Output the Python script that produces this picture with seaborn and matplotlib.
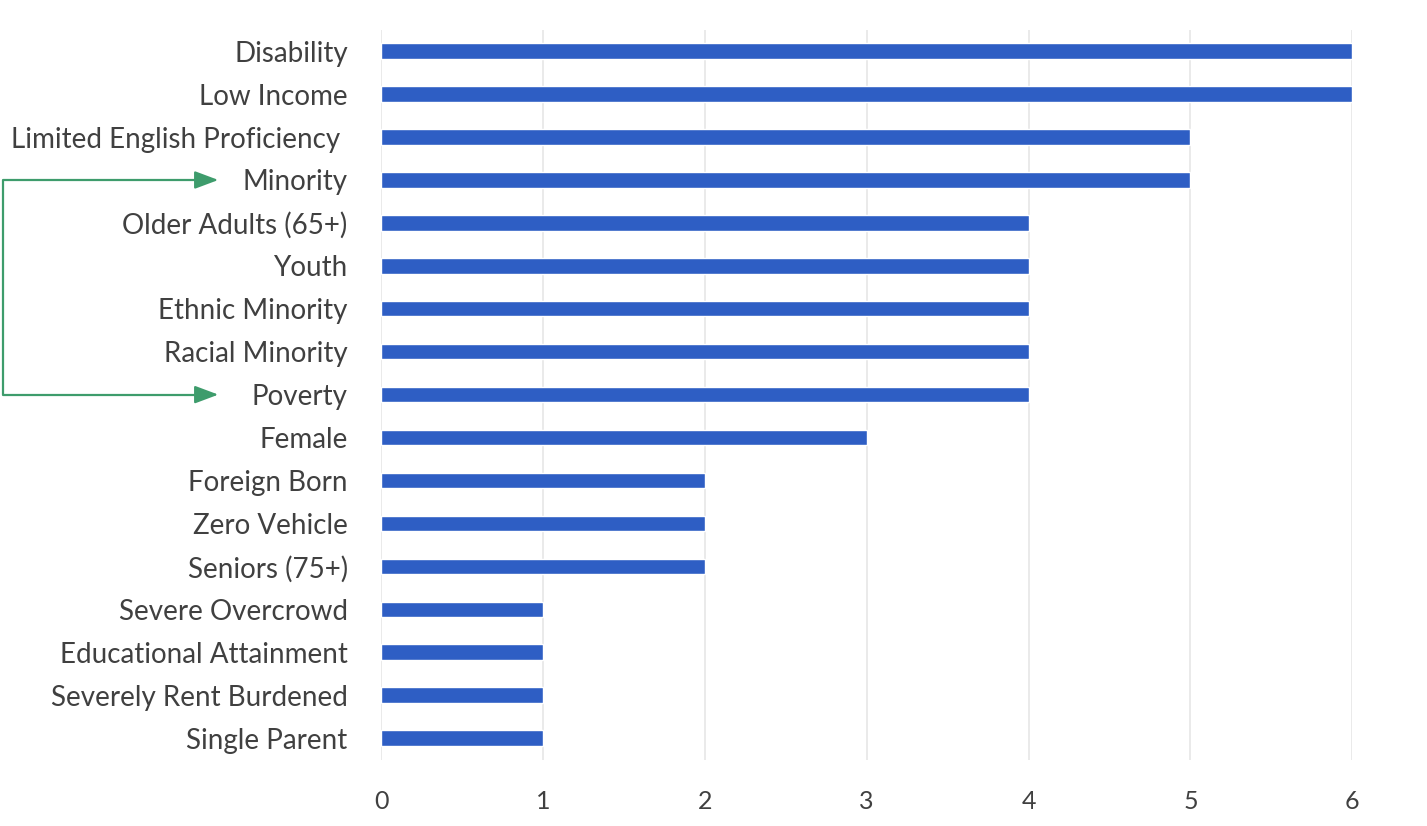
import matplotlib
matplotlib.use("Agg")
import matplotlib.pyplot as plt
import matplotlib.transforms as mtransforms
import seaborn as sns
import pandas as pd

categories = [
    "Disability", "Low Income", "Limited English Proficiency ", "Minority",
    "Older Adults (65+)", "Youth", "Ethnic Minority", "Racial Minority",
    "Poverty", "Female", "Foreign Born", "Zero Vehicle", "Seniors (75+)",
    "Severe Overcrowd", "Educational Attainment", "Severely Rent Burdened",
    "Single Parent",
]
counts = [6, 6, 5, 5, 4, 4, 4, 4, 4, 3, 2, 2, 2, 1, 1, 1, 1]
x_ticks = [0, 1, 2, 3, 4, 5, 6]

df = pd.DataFrame({"category": categories, "count": counts})

sns.set_theme(style="white")
plt.rcParams["font.family"] = ["Lato", "DejaVu Sans"]

fig = plt.figure(figsize=(14.27, 8.26), dpi=100)
ax = fig.add_axes([0.267, 0.0805, 0.6807, 0.8835])

sns.barplot(data=df, x="count", y="category", orient="h", color="#2E5EC4",
            width=0.36, saturation=1, ax=ax, zorder=3)

ax.set_xlim(0, 6)
ax.set_ylim(len(categories) - 0.5, -0.5)
ax.set_xticks(x_ticks)
ax.set_xticklabels([str(t) for t in x_ticks])
ax.xaxis.grid(True, color="#E6E6E6", linewidth=1.2, zorder=0)
ax.yaxis.grid(False)
for s in ax.spines.values():
    s.set_visible(False)
ax.set_xlabel("")
ax.set_ylabel("")
ax.tick_params(axis="y", labelsize=20, colors="#404040", pad=24, length=0)
ax.tick_params(axis="x", labelsize=18, colors="#404040", pad=22, length=0)

# Bracket arrow linking "Minority" and "Poverty"
trans = mtransforms.blended_transform_factory(fig.transFigure, ax.transData)
y_top = categories.index("Minority")
y_bot = categories.index("Poverty")
green = "#3E9C6C"
x_left = 0.002
x_tip = 0.153
ax.plot([x_tip - 0.012, x_left, x_left, x_tip - 0.012], [y_top, y_top, y_bot, y_bot],
        transform=trans, color=green, lw=1.6, clip_on=False, zorder=5)
for yy in (y_top, y_bot):
    ax.annotate("", xy=(x_tip, yy), xytext=(x_tip - 0.014, yy),
                xycoords=trans, textcoords=trans,
                arrowprops=dict(arrowstyle="-|>,head_length=1.2,head_width=0.45",
                                color=green, lw=1.6, shrinkA=0, shrinkB=0),
                annotation_clip=False)

fig.savefig("out.png", dpi=100, facecolor="white")
